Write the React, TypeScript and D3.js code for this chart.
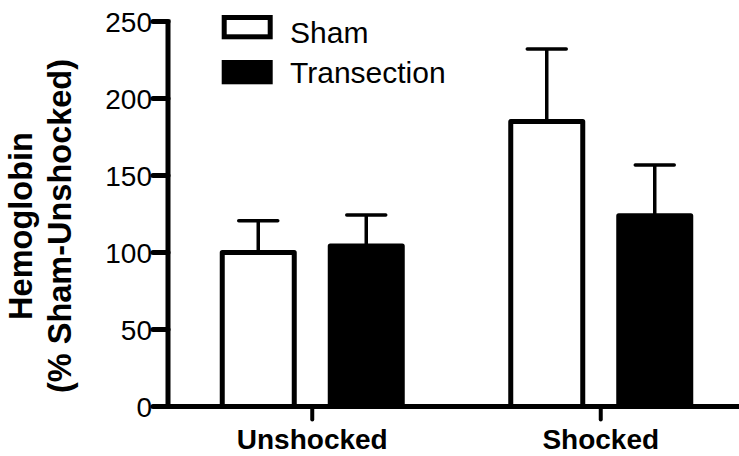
import React from "react";
import * as d3 from "d3";

const groups = ["Unshocked", "Shocked"];
const series = ["Sham", "Transection"];
const shamValues = [100, 185];
const shamErrors = [20.6, 47.2];
const transectionValues = [104.3, 123.8];
const transectionErrors = [20.1, 33];
const yTicks = [0, 50, 100, 150, 200, 250];

const W = 739;
const H = 456;
const FONT = "'Liberation Sans', Arial, Helvetica, sans-serif";

export default function App() {
  const axisX = 168;
  const axisY = 406.5;
  const y = d3.scaleLinear().domain([0, 250]).range([axisY, 21.5]);
  const x0 = d3.scaleBand<string>().domain(groups).range([axisX, axisX + 2 * 288.5]).padding(0);
  const x1 = d3.scaleBand<string>().domain(series).range([-108, 108]).padding(0);
  const barW = 72;
  const capW = 39;

  const data = [
    { s: "Sham", values: shamValues, errors: shamErrors, fill: "#fff" },
    { s: "Transection", values: transectionValues, errors: transectionErrors, fill: "#000" },
  ];

  return (
    <svg width={W} height={H} style={{ position: "absolute", left: 0, top: 0, background: "#fff" }} fontFamily={FONT}>
      {/* bars */}
      {data.map((d) =>
        groups.map((g, i) => {
          const cx = (x0(g) as number) + x0.bandwidth() / 2 + (x1(d.s) as number) + x1.bandwidth() / 2;
          const top = y(d.values[i]);
          const errTop = y(d.values[i] + d.errors[i]);
          return (
            <g key={d.s + g}>
              <line x1={cx} x2={cx} y1={top} y2={errTop} stroke="#000" strokeWidth={3.5} />
              <line x1={cx - capW / 2} x2={cx + capW / 2} y1={errTop} y2={errTop} stroke="#000" strokeWidth={3.5} strokeLinecap="round" />
              <rect x={cx - barW / 2} y={top} width={barW} height={axisY - top} fill={d.fill} stroke="#000" strokeWidth={5} strokeLinejoin="round" />
            </g>
          );
        })
      )}
      {/* y axis */}
      <line x1={axisX} x2={axisX} y1={y(250) - 2} y2={axisY} stroke="#000" strokeWidth={5} />
      {yTicks.map((t) => (
        <g key={t}>
          <line x1={axisX - 15} x2={axisX} y1={y(t)} y2={y(t)} stroke="#000" strokeWidth={5} strokeLinecap="round" />
          <text x={axisX - 16} y={y(t)} dy="0.36em" textAnchor="end" fontSize={28} fill="#000">
            {t}
          </text>
        </g>
      ))}
      {/* x axis */}
      <line x1={axisX - 2.5} x2={W} y1={axisY} y2={axisY} stroke="#000" strokeWidth={5} />
      {groups.map((g) => {
        const cx = (x0(g) as number) + x0.bandwidth() / 2;
        return (
          <g key={g}>
            <line x1={cx} x2={cx} y1={axisY} y2={axisY + 13} stroke="#000" strokeWidth={4} strokeLinecap="round" />
            <text x={cx} y={449} textAnchor="middle" fontSize={28} fontWeight="bold" fill="#000">
              {g}
            </text>
          </g>
        );
      })}
      {/* y label */}
      <g transform="translate(0,226) rotate(-90)">
        <text x={0} y={32} textAnchor="middle" fontSize={32.5} fontWeight="bold" fill="#000">
          Hemoglobin
        </text>
        <text x={0} y={71} textAnchor="middle" fontSize={32.5} fontWeight="bold" fill="#000">
          (% Sham-Unshocked)
        </text>
      </g>
      {/* legend */}
      {data.map((d, i) => (
        <g key={d.s}>
          <rect x={224.2} y={17.5 + i * 45} width={46} height={19.3} fill={d.fill} stroke="#000" strokeWidth={5} />
          <text x={290} y={43 + i * 40} fontSize={30} fill="#000">
            {d.s}
          </text>
        </g>
      ))}
    </svg>
  );
}
